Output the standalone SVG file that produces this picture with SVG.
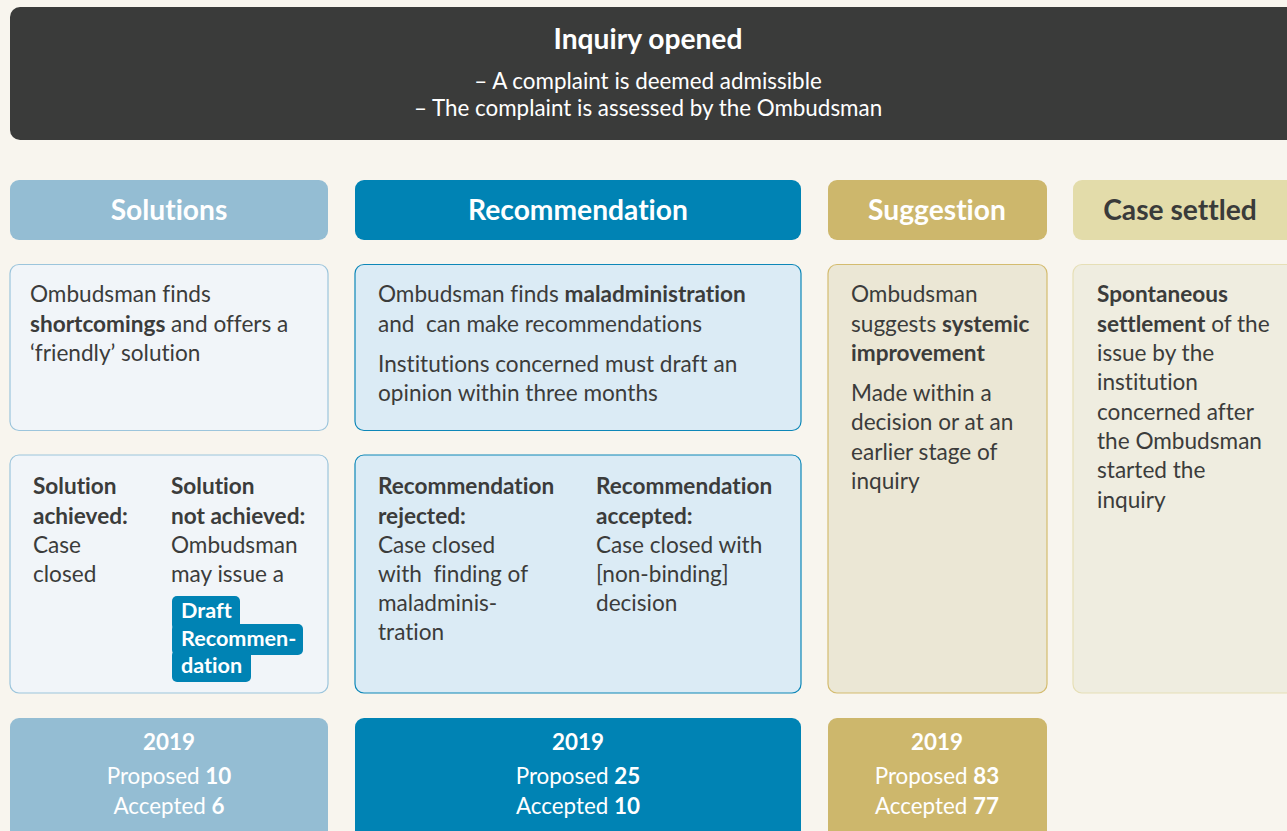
<svg xmlns="http://www.w3.org/2000/svg" width="1287" height="831" viewBox="0 0 1287 831">
<style>
text{font-family:Lato,"Open Sans","Liberation Sans",sans-serif;font-variant-ligatures:none;}
.t{font-size:22.6px;fill:#3b3c3b;}
.b{font-weight:bold;}
.bd{font-size:21.6px;font-weight:bold;fill:#ffffff;}
.hd{font-size:28.2px;font-weight:bold;text-anchor:middle;}
.w{fill:#ffffff;}
.st{font-size:22.4px;text-anchor:middle;fill:#ffffff;}
</style>
<rect x="0" y="0" width="1287" height="831" fill="#f8f5ee"/>
<g id="inquiry">
<rect x="10" y="7" width="1287" height="133" rx="10" fill="#3a3b3a"/>
<text x="648" y="49" class="hd w">Inquiry opened</text>
<text x="648" y="89" class="st">– A complaint is deemed admissible</text>
<text x="648" y="116" class="st">– The complaint is assessed by the Ombudsman</text>
</g>
<g id="solutions-head">
<rect x="10" y="180" width="318" height="60" rx="9" fill="#94bdd3"/>
<text x="169" y="220" class="hd w">Solutions</text>
</g>
<g id="recommendation-head">
<rect x="355" y="180" width="446" height="60" rx="9" fill="#0083b4"/>
<text x="578" y="220" class="hd w">Recommendation</text>
</g>
<g id="suggestion-head">
<rect x="828" y="180" width="219" height="60" rx="9" fill="#cdb76c"/>
<text x="937" y="220" class="hd w">Suggestion</text>
</g>
<g id="settled-head">
<rect x="1073" y="180" width="230" height="60" rx="9" fill="#e3dcaa"/>
<text x="1180" y="220" class="hd" fill="#3a3b3a">Case settled</text>
</g>
<g id="solutions-desc">
<rect x="10" y="264.5" width="318" height="166" rx="9" fill="#f1f5f9" stroke="#9cc5dc" stroke-width="1.2"/>
<text x="30" y="302" class="t">Ombudsman finds</text>
<text x="30" y="332" class="t"><tspan class="b">shortcomings</tspan> and offers a</text>
<text x="30" y="361" class="t">‘friendly’ solution</text>
</g>
<g id="solutions-outcome">
<rect x="10" y="455" width="318" height="238" rx="9" fill="#f1f5f9" stroke="#9cc5dc" stroke-width="1.2"/>
<text x="33" y="494" class="t b">Solution</text>
<text x="33" y="524" class="t b">achieved:</text>
<text x="33" y="553" class="t">Case</text>
<text x="33" y="582" class="t">closed</text>
<text x="171" y="494" class="t b">Solution</text>
<text x="171" y="524" class="t b">not achieved:</text>
<text x="171" y="553" class="t">Ombudsman</text>
<text x="171" y="582" class="t">may issue a</text>
<g id="draft-badge">
<rect x="172" y="596" width="68" height="34" rx="5" fill="#0083b4"/>
<rect x="172" y="624" width="131" height="31" rx="5" fill="#0083b4"/>
<rect x="172" y="650" width="79" height="32" rx="5" fill="#0083b4"/>
<text x="181" y="618" class="bd">Draft</text>
<text x="181" y="646" class="bd">Recommen-</text>
<text x="181" y="673" class="bd">dation</text>
</g>
</g>
<g id="solutions-stats">
<rect x="10" y="718" width="318" height="130" rx="9" fill="#94bdd3"/>
<text x="169" y="750" class="st b">2019</text>
<text x="169" y="784" class="st">Proposed <tspan class="b">10</tspan></text>
<text x="169" y="814" class="st">Accepted <tspan class="b">6</tspan></text>
</g>
<g id="recommendation-desc">
<rect x="355" y="264.5" width="446" height="166" rx="9" fill="#dbebf5" stroke="#0d87b8" stroke-width="1.2"/>
<text x="378" y="302" class="t">Ombudsman finds <tspan class="b">maladministration</tspan></text>
<text x="378" y="332" class="t" xml:space="preserve">and  can make recommendations</text>
<text x="378" y="372" class="t">Institutions concerned must draft an</text>
<text x="378" y="401" class="t">opinion within three months</text>
</g>
<g id="recommendation-outcome">
<rect x="355" y="455" width="446" height="238" rx="9" fill="#dbebf5" stroke="#0d87b8" stroke-width="1.2"/>
<text x="378" y="494" class="t b">Recommendation</text>
<text x="378" y="524" class="t b">rejected:</text>
<text x="378" y="553" class="t">Case closed</text>
<text x="378" y="582" class="t" xml:space="preserve">with  finding of</text>
<text x="378" y="611" class="t">maladminis-</text>
<text x="378" y="640" class="t">tration</text>
<text x="596" y="494" class="t b">Recommendation</text>
<text x="596" y="524" class="t b">accepted:</text>
<text x="596" y="553" class="t">Case closed with</text>
<text x="596" y="582" class="t">[non-binding]</text>
<text x="596" y="611" class="t">decision</text>
</g>
<g id="recommendation-stats">
<rect x="355" y="718" width="446" height="130" rx="9" fill="#0083b4"/>
<text x="578" y="750" class="st b">2019</text>
<text x="578" y="784" class="st">Proposed <tspan class="b">25</tspan></text>
<text x="578" y="814" class="st">Accepted <tspan class="b">10</tspan></text>
</g>
<g id="suggestion-desc">
<rect x="828" y="264.5" width="219" height="428.5" rx="9" fill="#ebe7d5" stroke="#d4bc6f" stroke-width="1.2"/>
<text x="851" y="302" class="t">Ombudsman</text>
<text x="851" y="332" class="t">suggests <tspan class="b">systemic</tspan></text>
<text x="851" y="361" class="t b">improvement</text>
<text x="851" y="401" class="t">Made within a</text>
<text x="851" y="430" class="t">decision or at an</text>
<text x="851" y="460" class="t">earlier stage of</text>
<text x="851" y="489" class="t">inquiry</text>
</g>
<g id="suggestion-stats">
<rect x="828" y="718" width="219" height="130" rx="9" fill="#cdb76c"/>
<text x="937" y="750" class="st b">2019</text>
<text x="937" y="784" class="st">Proposed <tspan class="b">83</tspan></text>
<text x="937" y="814" class="st">Accepted <tspan class="b">77</tspan></text>
</g>
<g id="settled-desc">
<rect x="1073" y="264.5" width="230" height="428.5" rx="9" fill="#efede0" stroke="#e6dfb6" stroke-width="1.2"/>
<text x="1097" y="302" class="t b">Spontaneous</text>
<text x="1097" y="332" class="t"><tspan class="b">settlement</tspan> of the</text>
<text x="1097" y="361" class="t">issue by the</text>
<text x="1097" y="390" class="t">institution</text>
<text x="1097" y="420" class="t">concerned after</text>
<text x="1097" y="449" class="t">the Ombudsman</text>
<text x="1097" y="478" class="t">started the</text>
<text x="1097" y="508" class="t">inquiry</text>
</g>
<g id="connectors"></g>
</svg>
